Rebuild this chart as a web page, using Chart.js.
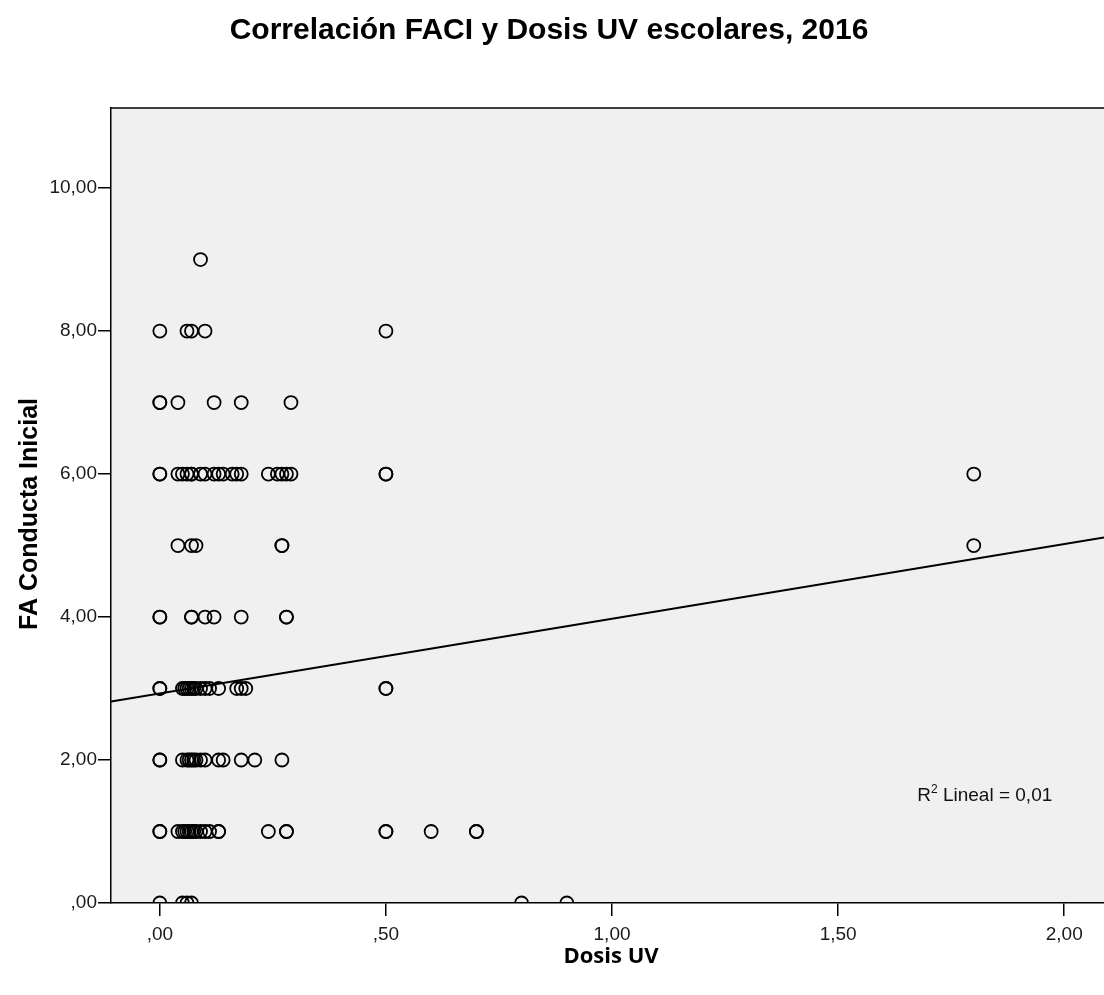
<!DOCTYPE html>
<html lang="es">
<head>
<meta charset="utf-8">
<title>Correlación FACI y Dosis UV escolares, 2016</title>
<script src="https://cdn.jsdelivr.net/npm/chart.js@4/dist/chart.umd.min.js"></script>
<style>
  html, body { margin: 0; padding: 0; background: #ffffff; }
  #wrap { width: 1104px; height: 995px; }
</style>
</head>
<body>
<div id="wrap"><canvas id="c" width="1104" height="995"></canvas></div>
<script>
// Dosis UV de cada escolar, agrupada por puntuación FA Conducta Inicial (0..9)
const dosisFA0 = [0, 0.05, 0.06, 0.07, 0.8, 0.9];
const dosisFA1 = [0, 0, 0.04, 0.05, 0.055, 0.06, 0.065, 0.07, 0.075, 0.08, 0.09, 0.1, 0.11, 0.13, 0.13, 0.24, 0.28, 0.28, 0.5, 0.5, 0.6, 0.7, 0.7];
const dosisFA2 = [0, 0, 0.05, 0.06, 0.065, 0.07, 0.075, 0.08, 0.09, 0.1, 0.13, 0.14, 0.18, 0.21, 0.27];
const dosisFA3 = [0, 0, 0.05, 0.055, 0.06, 0.065, 0.07, 0.075, 0.08, 0.09, 0.1, 0.11, 0.13, 0.17, 0.18, 0.19, 0.5, 0.5];
const dosisFA4 = [0, 0, 0.07, 0.07, 0.1, 0.12, 0.18, 0.28, 0.28];
const dosisFA5 = [0.04, 0.07, 0.08, 0.27, 0.27, 1.8];
const dosisFA6 = [0, 0, 0.04, 0.05, 0.06, 0.07, 0.07, 0.09, 0.1, 0.12, 0.13, 0.14, 0.16, 0.17, 0.18, 0.24, 0.26, 0.27, 0.28, 0.29, 0.5, 0.5, 1.8];
const dosisFA7 = [0, 0, 0.04, 0.12, 0.18, 0.29];
const dosisFA8 = [0, 0.06, 0.07, 0.1, 0.5];
const dosisFA9 = [0.09];

const faLevels = [0, 1, 2, 3, 4, 5, 6, 7, 8, 9];
const dosisPorNivel = [dosisFA0, dosisFA1, dosisFA2, dosisFA3, dosisFA4, dosisFA5, dosisFA6, dosisFA7, dosisFA8, dosisFA9];

// Recta de ajuste lineal (R² = 0,01)
const fitIntercept = 2.93;
const fitSlope = 1.045;
const r2Text = "0,01";

// Ejes
const xTicks = [0, 0.5, 1, 1.5, 2];
const yTicks = [0, 2, 4, 6, 8, 10];
const xRange = [-0.108, 2.088];
const yRange = [0, 11.12];

const puntos = [];
faLevels.forEach((fa, i) => dosisPorNivel[i].forEach(d => puntos.push({ x: d, y: fa })));

const recta = xRange.map(x => ({ x: x, y: fitIntercept + fitSlope * x }));

// Formato de número estilo SPSS: ",50", "1,00", "10,00"
function fmt(v) {
  let s = Number(v).toFixed(2).replace('.', ',');
  if (s.startsWith('0,')) s = s.slice(1);
  return s;
}

const SANS = '"Liberation Sans", Arial, sans-serif';

const decor = {
  id: 'decor',
  beforeDraw(chart) {
    const { ctx, chartArea: a } = chart;
    ctx.save();
    ctx.fillStyle = '#ffffff';
    ctx.fillRect(0, 0, chart.width, chart.height);
    ctx.fillStyle = '#f0f0f0';
    ctx.fillRect(a.left, a.top, a.right - a.left, a.bottom - a.top);
    ctx.restore();
  },
  afterDraw(chart) {
    const { ctx, chartArea: a } = chart;
    const xs = chart.scales.x, ys = chart.scales.y;
    ctx.save();
    // marco superior
    ctx.strokeStyle = '#000';
    ctx.lineWidth = 1.5;
    ctx.beginPath();
    ctx.moveTo(a.left, a.top);
    ctx.lineTo(a.right, a.top);
    ctx.stroke();

    // título
    ctx.fillStyle = '#000';
    ctx.textAlign = 'center';
    ctx.textBaseline = 'middle';
    ctx.font = 'bold 30px ' + SANS;
    ctx.fillText('Correlación FACI y Dosis UV escolares, 2016', 549, 31);

    // título eje X
    ctx.font = 'bold 22px "Open Sans", ' + SANS;
    ctx.fillText('Dosis UV', 611, 957);

    // título eje Y
    ctx.save();
    ctx.translate(30, 514);
    ctx.rotate(-Math.PI / 2);
    ctx.font = 'bold 25px ' + SANS;
    ctx.fillText('FA Conducta Inicial', 0, 0);
    ctx.restore();

    // etiqueta R²
    let px = xs.getPixelForValue(1.675);
    const py = ys.getPixelForValue(1.5);
    ctx.textAlign = 'left';
    ctx.textBaseline = 'middle';
    ctx.fillStyle = '#111';
    ctx.font = '19px ' + SANS;
    ctx.fillText('R', px, py);
    px += ctx.measureText('R').width;
    ctx.font = '12px ' + SANS;
    ctx.fillText('2', px, py - 6);
    px += ctx.measureText('2').width;
    ctx.font = '19px ' + SANS;
    ctx.fillText(' Lineal = ' + r2Text, px, py);
    ctx.restore();
  }
};

new Chart(document.getElementById('c'), {
  data: {
    datasets: [
      {
        type: 'line',
        label: 'Lineal',
        data: recta,
        borderColor: '#000',
        borderWidth: 2,
        pointRadius: 0,
        fill: false,
        order: 0
      },
      {
        type: 'scatter',
        label: 'FA Conducta Inicial',
        data: puntos,
        pointStyle: 'circle',
        pointRadius: 6.5,
        pointBorderWidth: 1.8,
        pointBackgroundColor: 'rgba(0,0,0,0)',
        pointBorderColor: '#000',
        order: 1
      }
    ]
  },
  options: {
    responsive: false,
    animation: false,
    events: [],
    layout: { autoPadding: false, padding: { top: 108, left: 0, right: 0, bottom: 0 } },
    plugins: {
      legend: { display: false },
      title: { display: false },
      tooltip: { enabled: false }
    },
    scales: {
      x: {
        type: 'linear',
        min: xRange[0],
        max: xRange[1],
        afterBuildTicks(s) { s.ticks = xTicks.map(v => ({ value: v })); },
        afterFit(s) { s.height = 92; s.paddingLeft = 0; s.paddingRight = 0; },
        ticks: {
          callback: v => fmt(v),
          color: '#1a1a1a',
          font: { family: SANS, size: 19 },
          padding: 7,
          maxRotation: 0,
          autoSkip: false
        },
        grid: { drawOnChartArea: false, drawTicks: true, tickLength: 13, color: '#000', lineWidth: 1.5 },
        border: { display: true, color: '#000', width: 1.5 }
      },
      y: {
        type: 'linear',
        min: yRange[0],
        max: yRange[1],
        afterBuildTicks(s) { s.ticks = yTicks.map(v => ({ value: v })); },
        afterFit(s) { s.width = 111; s.paddingTop = 0; s.paddingBottom = 0; },
        ticks: {
          callback: v => fmt(v),
          color: '#1a1a1a',
          font: { family: SANS, size: 19 },
          padding: 1,
          autoSkip: false
        },
        grid: { drawOnChartArea: false, drawTicks: true, tickLength: 13, color: '#000', lineWidth: 1.5 },
        border: { display: true, color: '#000', width: 1.5 }
      }
    }
  },
  plugins: [decor]
});
</script>
</body>
</html>
